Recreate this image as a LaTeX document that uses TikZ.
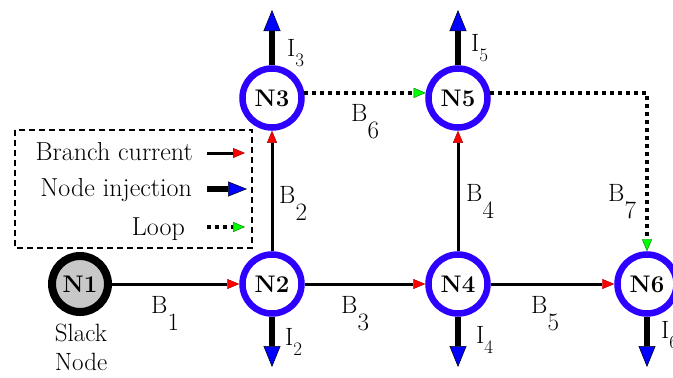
\documentclass[tikz,border=0pt]{standalone}
\usepackage{fontspec}
\usetikzlibrary{arrows.meta}

\definecolor{ringblue}{RGB}{45,0,255}
\definecolor{slackgray}{RGB}{200,200,200}

\begin{document}
\begin{tikzpicture}[x=1pt,y=-1pt,
  txt/.style={inner sep=0pt, font=\fontsize{25}{29}\selectfont},
  legtxt/.style={inner sep=0pt, font=\fontsize{26}{29}\selectfont\addfontfeatures{LetterSpace=5}},
  bus/.style={circle, draw=ringblue, line width=6.5pt, minimum size=59pt,
    inner sep=0pt, fill=white, font=\bfseries\fontsize{24}{24}\selectfont},
  slackbus/.style={bus, draw=black, line width=8pt, minimum size=56pt, fill=slackgray},
  branch/.style={line width=3pt,
    -{Triangle[length=12pt,width=10pt,fill=red,color=red!60!black,line width=0.4pt]}},
  inject/.style={line width=6pt,
    -{Triangle[length=21pt,width=17pt,fill=blue,color=black,line width=0.5pt]}},
  legendinject/.style={line width=6pt,
    -{Triangle[length=19pt,width=15pt,fill=blue,color=black,line width=0.5pt]}},
  loop/.style={line width=4pt, dash pattern=on 4pt off 4pt,
    -{Triangle[length=12pt,width=10pt,fill=green,color=green!45!black,line width=0.4pt]}},
  legendframe/.style={draw, line width=1.2pt, dash pattern=on 6pt off 4pt}
]
\useasboundingbox (0,0) rectangle (673,378);

% buses
\node[slackbus] (N1) at (80,284) {N1};
\node[bus] (N2) at (272,284) {N2};
\node[bus] (N3) at (272,98) {N3};
\node[bus] (N4) at (458,284) {N4};
\node[bus] (N5) at (458,98) {N5};
\node[bus] (N6) at (647,284) {N6};

\node[txt, align=center] (slacktext) at (81,347) {Slack\\Node};

% branch currents
\draw[branch] (N1) -- (N2);
\draw[branch] (N2) -- (N3);
\draw[branch] (N2) -- (N4);
\draw[branch] (N4) -- (N5);
\draw[branch] (N4) -- (N6);

% loop
\draw[loop] (N3.9) -- (N5.171);
\draw[loop] (N5.9) -| (N6.north);

% node injections
\coordinate (I2tip) at (272,367);
\coordinate (I3tip) at (272,10);
\coordinate (I4tip) at (458,367);
\coordinate (I5tip) at (458,10);
\coordinate (I6tip) at (647,367);
\draw[inject] (N2) -- (I2tip);
\draw[inject] (N3) -- (I3tip);
\draw[inject] (N4) -- (I4tip);
\draw[inject] (N5) -- (I5tip);
\draw[inject] (N6) -- (I6tip);

% branch labels
\node[txt, anchor=base west] (lB1) at (151,313) {B\raisebox{-17pt}{1}};
\node[txt, anchor=base west] (lB2) at (279,203) {B\raisebox{-17pt}{2}};
\node[txt, anchor=base west] (lB3) at (341,313) {B\raisebox{-17pt}{3}};
\node[txt, anchor=base west] (lB4) at (466,201) {B\raisebox{-17pt}{4}};
\node[txt, anchor=base west] (lB5) at (531,313) {B\raisebox{-17pt}{5}};
\node[txt, anchor=base west] (lB6) at (351,121) {B\raisebox{-17pt}{6}};
\node[txt, anchor=base west] (lB7) at (608,201) {B\raisebox{-17pt}{7}};

% injection labels
\node[txt, anchor=base west] (lI2) at (285,345) {I\raisebox{-10pt}{\fontsize{19}{19}\selectfont 2}};
\node[txt, anchor=base west] (lI3) at (287,56) {I\raisebox{-10pt}{\fontsize{19}{19}\selectfont 3}};
\node[txt, anchor=base west] (lI4) at (476,343) {I\raisebox{-10pt}{\fontsize{19}{19}\selectfont 4}};
\node[txt, anchor=base west] (lI5) at (471,51) {I\raisebox{-10pt}{\fontsize{19}{19}\selectfont 5}};
\node[txt, anchor=base west] (lI6) at (661,338) {I\raisebox{-10pt}{\fontsize{19}{19}\selectfont 6}};

% legend
\draw[legendframe] (15,130) rectangle (252,248);
\node[legtxt, anchor=base east] (legB) at (193,160) {Branch current};
\node[legtxt, anchor=base east] (legI) at (192,196) {Node injection};
\node[legtxt, anchor=base east] (legL) at (185,235) {Loop};
\coordinate (legBs) at (207,153);
\coordinate (legBe) at (245,153);
\coordinate (legIs) at (207,189);
\coordinate (legIe) at (247,189);
\coordinate (legLs) at (207,227);
\coordinate (legLe) at (245,227);
\draw[branch] (legBs) -- (legBe);
\draw[legendinject] (legIs) -- (legIe);
\draw[loop] (legLs) -- (legLe);
\end{tikzpicture}
\end{document}
